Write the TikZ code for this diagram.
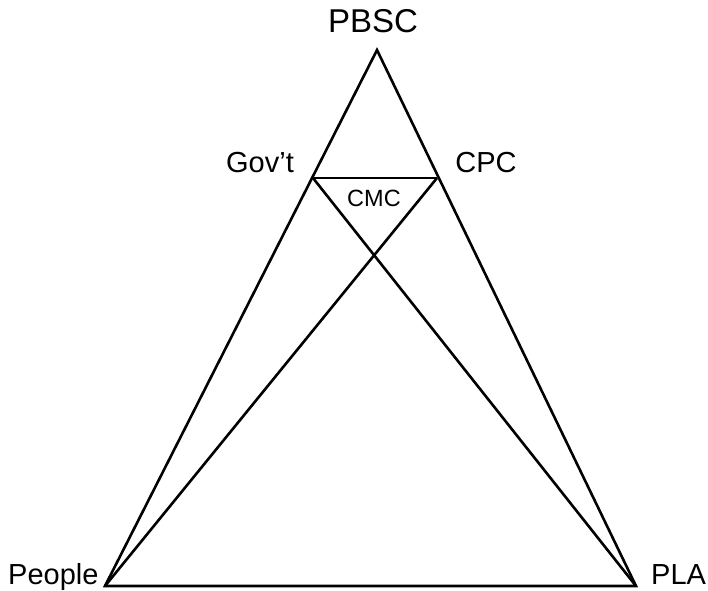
\documentclass[tikz,border=0pt]{standalone}
\usepackage{fontspec}
\setmainfont{Liberation Sans}
\begin{document}
\begin{tikzpicture}[x=1pt,y=-1pt,
  edge/.style={line width=2.6pt,line join=miter,line cap=butt},
  big/.style={font=\fontsize{33}{33}\selectfont,inner sep=0pt,anchor=base},
  lab/.style={font=\fontsize{29}{29}\selectfont,inner sep=0pt,anchor=base},
  small/.style={font=\fontsize{23.5}{23.5}\selectfont,inner sep=0pt,anchor=base}]
\useasboundingbox (0,0) rectangle (708,590);
\coordinate (apex) at (377,50);
\coordinate (gov) at (313,178);
\coordinate (cpc) at (437,178);
\coordinate (people) at (105,586);
\coordinate (pla) at (636,586);
\draw[edge] (people) -- (apex) -- (pla) -- cycle;
\draw[edge] (gov) -- (cpc);
\draw[edge] (gov) -- (pla);
\draw[edge] (cpc) -- (people);
\node[big] (tpbsc) at (373,32) {PBSC};
\node[lab] (tgov) at (260,172) {Gov’t};
\node[lab] (tcpc) at (486,172) {CPC};
\node[small] (tcmc) at (374,206) {CMC};
\node[lab,anchor=base west] (tpeople) at (8,584) {People};
\node[lab,anchor=base west] (tpla) at (651,584) {PLA};
\end{tikzpicture}
\end{document}
